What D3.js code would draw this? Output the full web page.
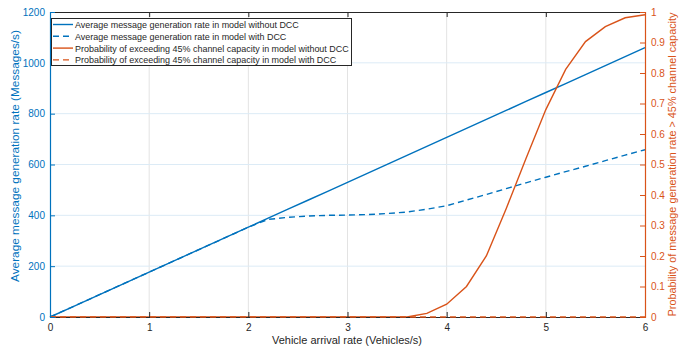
<!DOCTYPE html>
<html><head><meta charset="utf-8">
<script src="https://cdn.jsdelivr.net/npm/d3@7"></script>
<style>body{margin:0;background:#fff}svg{display:block;font-family:"Liberation Sans",Arial,sans-serif}</style>
</head><body><svg id="c" width="691" height="349"></svg>
<script>
const xValues = [0,0.2,0.4,0.6,0.8,1.0,1.2,1.4,1.6,1.8,2.0,2.2,2.4,2.6,2.8,3.0,3.2,3.4,3.6,3.8,4.0,4.2,4.4,4.6,4.8,5.0,5.2,5.4,5.6,5.8,6.0];
const rateNoDCC = [0,35.3,70.6,106,141.3,176.6,212,247.3,282.6,318,353.3,388.6,424,459.3,494.6,530,565.3,600.6,636,671.3,706.6,742,777.3,812.6,848,883.3,918.6,954,989.3,1024.6,1060];
const rateDCC = [0,35.3,70.6,106,141.3,176.6,212,247.3,282.6,318,353.3,384,392,397,400,401,403,407,413,424,438,460,482,505,528,550,572,593,615,637,658];
const probNoDCC = [0,0,0,0,0,0,0,0,0,0,0,0,0,0,0,0,0,0,0,0.012,0.042,0.10,0.20,0.355,0.52,0.68,0.812,0.903,0.952,0.981,0.991];
const probDCC = [0,0,0,0,0,0,0,0,0,0,0,0,0,0,0,0,0,0,0,0,0,0,0,0,0,0,0,0,0,0,0];
const xTicks = [0,1,2,3,4,5,6];
const yLeftTicks = [0,200,400,600,800,1000,1200];
const yRightTicks = [0,0.1,0.2,0.3,0.4,0.5,0.6,0.7,0.8,0.9,1];
const legendLabels = ["Average message generation rate in model without DCC","Average message generation rate in model with DCC","Probability of exceeding 45% channel capacity in model without DCC","Probability of exceeding 45% channel capacity in model with DCC"];

const BLUE="#0072BD", ORANGE="#D95319", DARK="#262626";
const L=50,R=645,T=12,B=317;
const svg=d3.select("#c");
const x=d3.scaleLinear().domain([0,6]).range([L,R]);
const yL=d3.scaleLinear().domain([0,1200]).range([B,T]);
const yR=d3.scaleLinear().domain([0,1]).range([B,T]);

function fit(sel,target){const n=sel.node();const fs=parseFloat(n.style.fontSize);const w=n.getComputedTextLength();sel.style("font-size",(fs*target/w).toFixed(2)+"px");return sel;}

// grid
const g=svg.append("g");
g.selectAll(".vg").data(xTicks.slice(1,-1)).enter().append("line")
 .attr("x1",d=>x(d)).attr("x2",d=>x(d)).attr("y1",T).attr("y2",B)
 .attr("stroke","#e3e3e3").attr("stroke-width",1);
g.selectAll(".hg").data(yLeftTicks.slice(1,-1)).enter().append("line")
 .attr("x1",L).attr("x2",R).attr("y1",d=>yL(d)).attr("y2",d=>yL(d))
 .attr("stroke","#dcebf6").attr("stroke-width",1);

// lines
const line=(ys,sc)=>d3.line().x((d,i)=>x(xValues[i])).y(d=>sc(d))(ys);
svg.append("path").attr("d",line(rateNoDCC,yL)).attr("fill","none").attr("stroke",BLUE).attr("stroke-width",1.4);
svg.append("path").attr("d",line(rateDCC,yL)).attr("fill","none").attr("stroke",BLUE).attr("stroke-width",1.4).attr("stroke-dasharray","6,4");
svg.append("path").attr("d",line(probNoDCC,yR)).attr("fill","none").attr("stroke",ORANGE).attr("stroke-width",1.4);

// axes
const fs="10px";
const axBottom=svg.append("g").attr("transform",`translate(0,${B})`)
 .call(d3.axisBottom(x).tickValues(xTicks).tickSize(-5).tickPadding(7).tickFormat(d3.format("d")));
const axTop=svg.append("g").attr("transform",`translate(0,${T})`)
 .call(d3.axisTop(x).tickValues(xTicks).tickSize(-5).tickFormat(""));
[axBottom,axTop].forEach(a=>{a.select(".domain").attr("stroke",DARK);a.selectAll("line").attr("stroke",DARK);a.selectAll("text").attr("fill",DARK).style("font-size",fs);});
svg.append("path").attr("d",line(probDCC,yR)).attr("fill","none").attr("stroke",ORANGE).attr("stroke-width",1.4).attr("stroke-dasharray","6,4");
const axLeft=svg.append("g").attr("transform",`translate(${L},0)`)
 .call(d3.axisLeft(yL).tickValues(yLeftTicks).tickSize(-5).tickPadding(5).tickFormat(d3.format("d")));
axLeft.select(".domain").attr("stroke",BLUE).attr("stroke-width",1.2);axLeft.selectAll("line").attr("stroke",BLUE);
axLeft.selectAll("text").attr("fill",BLUE).style("font-size",fs);
const axRight=svg.append("g").attr("transform",`translate(${R},0)`)
 .call(d3.axisRight(yR).tickValues(yRightTicks).tickSize(-5).tickPadding(6).tickFormat(d=>d3.format("~g")(d)));
axRight.select(".domain").attr("stroke",ORANGE).attr("stroke-width",1.2);axRight.selectAll("line").attr("stroke",ORANGE);
axRight.selectAll("text").attr("fill",ORANGE).style("font-size",fs);
svg.selectAll(".domain").attr("fill","none");

// labels
fit(svg.append("text").attr("x",347).attr("y",344).attr("text-anchor","middle").attr("fill",DARK).style("font-size","11px").text("Vehicle arrival rate (Vehicles/s)"),150);
fit(svg.append("text").attr("transform",`translate(19,156) rotate(-90)`).attr("text-anchor","middle").attr("fill",BLUE).style("font-size","12px").text("Average message generation rate (Messages/s)"),252);
fit(svg.append("text").attr("transform",`translate(676,164.5) rotate(-90)`).attr("text-anchor","middle").attr("fill",ORANGE).style("font-size","12px").text("Probability of message generation rate > 45% channel capacity"),304);

// legend
const lg=svg.append("g");
lg.append("rect").attr("x",51.5).attr("y",18.5).attr("width",300).attr("height",47).attr("fill","#fff").attr("stroke",DARK).attr("stroke-width",1);
const styles=[[BLUE,null],[BLUE,"6,4"],[ORANGE,null],[ORANGE,"6,4"]];
legendLabels.forEach((t,i)=>{
  const yy=24.5+i*11.8;
  lg.append("line").attr("x1",53).attr("x2",73).attr("y1",yy).attr("y2",yy).attr("stroke",styles[i][0]).attr("stroke-width",1.4).attr("stroke-dasharray",styles[i][1]);
  const tx=lg.append("text").attr("x",75).attr("y",yy+3.5).attr("fill",DARK).style("font-size","10px").text(t);
  if(i===0) fit(tx,224);
  else tx.style("font-size",lg.select("text").style("font-size"));
});
</script></body></html>
